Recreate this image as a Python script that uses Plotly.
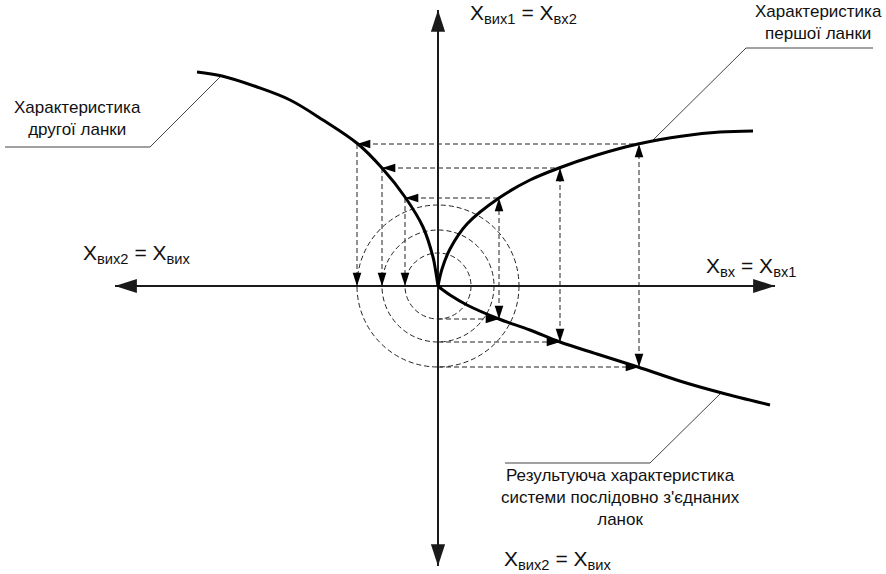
import plotly.graph_objects as go

# ---- data (diagram units, origin at the axes crossing, y up) ----
# characteristic of the first link: x_вх -> x_вих1 (quadrant I)
first_x = [0, 4, 12, 29, 61, 92, 121, 159, 200, 245, 282, 315]
first_y = [0, 17, 37, 62, 88, 106, 118, 131, 142, 150, 154, 155]

# characteristic of the second link: x_вх2 -> x_вих2 (quadrant II)
second_x = [0, -3, -5, -15, -33, -56, -80, -115, -148, -181, -216, -241]
second_y = [0, 19, 29, 59, 89, 118, 142, 166, 186, 199, 210, 214]

# resulting characteristic of the series connection (quadrant IV)
result_x = [0, 1, 5, 12, 29, 61, 92, 122, 159, 200, 245, 284, 332]
result_y = [0, -1, -4, -9, -19, -33, -44, -56, -68, -81, -96, -107, -119]

# three worked examples of the graphical construction
x_in = [61, 122, 201]      # x_вх = x_вх1
x_mid = [88, 118, 142]     # x_вих1 = x_вх2
x_out = [-33, -56, -81]    # x_вих2 = x_вих

# axes extents
axis_h = [-323, 337]
axis_v = [-280, 276]

# leader lines for the captions
leader_left_x = [-433, -288, -218]
leader_left_y = [139, 139, 209]
leader_right_x = [435, 308, 214]
leader_right_y = [238, 238, 145]
leader_bottom_x = [67, 212, 283]
leader_bottom_y = [-177, -177, -107]

captions = [
    "Характеристика<br>другої ланки",
    "Характеристика<br>першої ланки",
    "Результуюча характеристика<br>системи послідовно з'єднаних<br>ланок",
]
axis_labels = [
    "X<sub>вих1</sub> = X<sub>вх2</sub>",
    "X<sub>вих2</sub> = X<sub>вих</sub>",
    "X<sub>вх</sub> = X<sub>вх1</sub>",
    "X<sub>вих2</sub> = X<sub>вих</sub>",
]

# ---- styles ----
FONT = "Liberation Sans, Arial, sans-serif"
AXIS_C = "#1a1a1a"
DASH_C = "#222222"
DASH = "5px,3px"

fig = go.Figure()

# dashed construction lines
for xi, xm, xo in zip(x_in, x_mid, x_out):
    r = abs(xo)
    fig.add_shape(type="circle", xref="x", yref="y", x0=-r, x1=r, y0=-r, y1=r,
                  line=dict(color=DASH_C, width=1, dash=DASH), layer="below")
    segs = [
        ([xi, xi], [xo, xm]),     # vertical through input
        ([xo, xi], [xm, xm]),     # horizontal top
        ([xo, xo], [xm, 0]),      # vertical down to negative x axis
        ([0, xi], [xo, xo]),      # horizontal bottom
    ]
    for sx, sy in segs:
        fig.add_trace(go.Scatter(x=sx, y=sy, mode="lines",
                                 line=dict(color=DASH_C, width=1, dash=DASH),
                                 hoverinfo="skip", showlegend=False))

# axes
fig.add_trace(go.Scatter(x=axis_h, y=[0, 0], mode="lines",
                         line=dict(color=AXIS_C, width=2), showlegend=False, hoverinfo="skip"))
fig.add_trace(go.Scatter(x=[0, 0], y=axis_v, mode="lines",
                         line=dict(color=AXIS_C, width=2), showlegend=False, hoverinfo="skip"))
fig.add_trace(go.Scatter(
    x=[axis_h[0], axis_h[1], 0, 0], y=[0, 0, axis_v[1], axis_v[0]], mode="markers",
    marker=dict(symbol="arrow", size=23, angle=[-90, 90, 0, 180], color=AXIS_C,
                line=dict(width=0)),
    showlegend=False, hoverinfo="skip"))

# leader lines
for lx, ly in [(leader_left_x, leader_left_y), (leader_right_x, leader_right_y),
               (leader_bottom_x, leader_bottom_y)]:
    fig.add_trace(go.Scatter(x=lx, y=ly, mode="lines",
                             line=dict(color="#444444", width=1),
                             showlegend=False, hoverinfo="skip"))

# characteristic curves
for cx, cy in [(first_x, first_y), (second_x, second_y), (result_x, result_y)]:
    fig.add_trace(go.Scatter(x=cx, y=cy, mode="lines",
                             line=dict(color="black", width=3, shape="spline", smoothing=1),
                             showlegend=False, hoverinfo="skip"))

# small arrowheads of the construction
ax_, ay_, ang = [], [], []
for xi, xm, xo in zip(x_in, x_mid, x_out):
    ax_ += [xi, xo, xo, xi, xi]
    ay_ += [xm, xm, 0, xo, xo]
    ang += [0, -90, 180, 180, 90]
fig.add_trace(go.Scatter(x=ax_, y=ay_, mode="markers",
                         marker=dict(symbol="arrow", size=14, angle=ang, color="black",
                                     line=dict(width=0)),
                         showlegend=False, hoverinfo="skip"))

# captions
cap_pos = [(-361, 168), (380, 264), (182, -211)]
for (cx, cy), t in zip(cap_pos, captions):
    fig.add_annotation(x=cx, y=cy, text=t, showarrow=False, xanchor="center", yanchor="middle",
                       font=dict(family=FONT, size=17, color="#111111"), align="center")

lab_pos = [(85, 272), (-301, 32), (313, 19), (120, -274)]
for (lx, ly), t in zip(lab_pos, axis_labels):
    fig.add_annotation(x=lx, y=ly, text=t, showarrow=False, xanchor="center", yanchor="middle",
                       font=dict(family=FONT, size=21, color="#111111"))

fig.update_layout(
    width=886, height=574, margin=dict(l=0, r=0, t=0, b=0),
    paper_bgcolor="white", plot_bgcolor="white",
    xaxis=dict(range=[-438, 448], visible=False, fixedrange=True),
    yaxis=dict(range=[-288, 286], visible=False, fixedrange=True),
    showlegend=False,
)

fig.write_html("out.html", config={"displayModeBar": False},
               post_script="document.body.style.margin='0';document.body.style.padding='0';")
